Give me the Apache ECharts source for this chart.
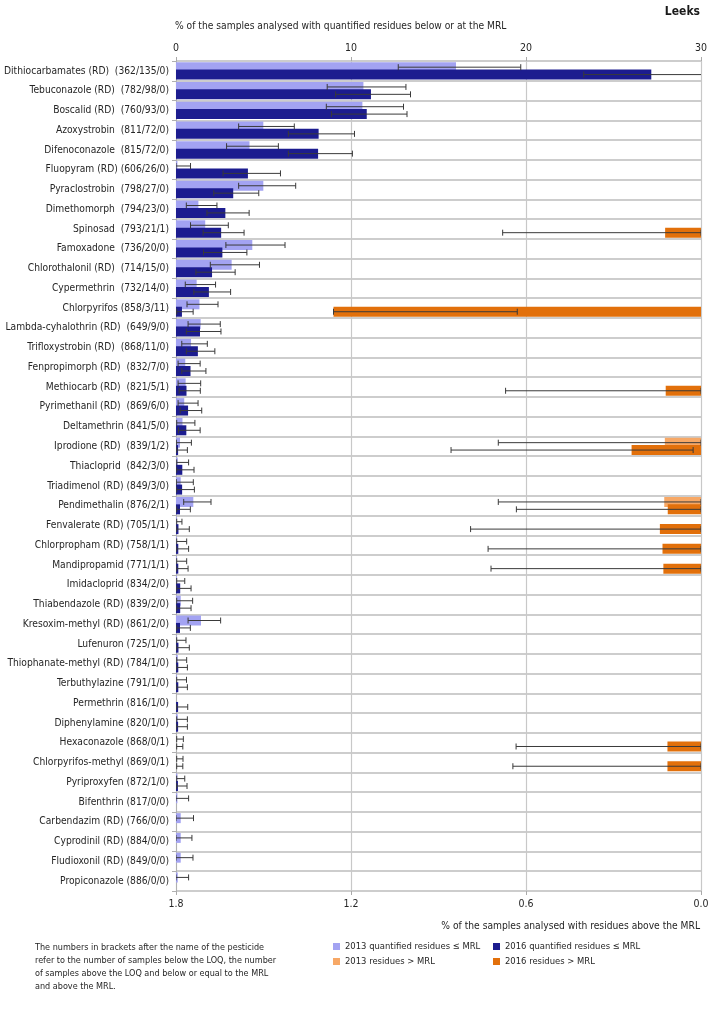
<!DOCTYPE html>
<html>
<head>
<meta charset="utf-8">
<script src="https://cdn.jsdelivr.net/npm/echarts@6/dist/echarts.min.js"></script>
<style>
html,body{margin:0;padding:0;background:#fff;}
#chart{width:709px;height:1014px;}
</style>
</head>
<body>
<div id="chart"></div>
<script>
const categories = [
  'Dithiocarbamates (RD)  (362/135/0)','Tebuconazole (RD)  (782/98/0)','Boscalid (RD)  (760/93/0)',
  'Azoxystrobin  (811/72/0)','Difenoconazole  (815/72/0)','Fluopyram (RD) (606/26/0)',
  'Pyraclostrobin  (798/27/0)','Dimethomorph  (794/23/0)','Spinosad  (793/21/1)',
  'Famoxadone  (736/20/0)','Chlorothalonil (RD)  (714/15/0)','Cypermethrin  (732/14/0)',
  'Chlorpyrifos (858/3/11)','Lambda-cyhalothrin (RD)  (649/9/0)','Trifloxystrobin (RD)  (868/11/0)',
  'Fenpropimorph (RD)  (832/7/0)','Methiocarb (RD)  (821/5/1)','Pyrimethanil (RD)  (869/6/0)',
  'Deltamethrin (841/5/0)','Iprodione (RD)  (839/1/2)','Thiacloprid  (842/3/0)',
  'Triadimenol (RD) (849/3/0)','Pendimethalin (876/2/1)','Fenvalerate (RD) (705/1/1)',
  'Chlorpropham (RD) (758/1/1)','Mandipropamid (771/1/1)','Imidacloprid (834/2/0)',
  'Thiabendazole (RD) (839/2/0)','Kresoxim-methyl (RD) (861/2/0)','Lufenuron (725/1/0)',
  'Thiophanate-methyl (RD) (784/1/0)','Terbuthylazine (791/1/0)','Permethrin (816/1/0)',
  'Diphenylamine (820/1/0)','Hexaconazole (868/0/1)','Chlorpyrifos-methyl (869/0/1)',
  'Pyriproxyfen (872/1/0)','Bifenthrin (817/0/0)','Carbendazim (RD) (766/0/0)',
  'Cyprodinil (RD) (884/0/0)','Fludioxonil (RD) (849/0/0)','Propiconazole (886/0/0)'
];

// % quantified residues <= MRL (top axis)
const q2013 = [16.0,10.71,10.65,4.99,4.20,0.08,4.99,1.28,1.67,4.36,3.18,1.18,1.34,1.41,0.86,0.53,0.55,0.47,0.37,0.23,0.10,0.27,0.99,0.05,0.05,0.05,0.06,0.27,1.43,0.03,0.10,0.05,0,0.10,0,0,0.08,0.08,0.27,0.27,0.27,0.10];
const q2016 = [27.16,11.14,10.90,8.15,8.12,4.11,3.27,2.82,2.58,2.65,2.06,1.88,0.34,1.37,1.25,0.83,0.60,0.69,0.59,0.12,0.36,0.35,0.23,0.14,0.13,0.13,0.24,0.24,0.23,0.14,0.13,0.13,0.12,0.12,0,0,0.11,0,0,0,0,0];

const qErr2013 = [[12.7,19.7],[8.64,13.14],[8.59,13.0],[3.58,6.76],[2.89,5.85],[0,0.83],[3.58,6.84],[0.59,2.34],[0.83,2.99],[2.85,6.23],[1.96,4.77],[0.53,2.26],[0.63,2.40],[0.69,2.53],[0.33,1.79],[0.12,1.38],[0.12,1.41],[0.12,1.26],[0.04,1.08],[0.02,0.88],[0.04,0.72],[0.02,0.99],[0.44,2.0],[0.04,0.34],[0.04,0.61],[0.04,0.61],[0.04,0.5],[0.04,0.95],[0.69,2.55],[0.04,0.57],[0.04,0.61],[0.04,0.6],null,[0.04,0.65],[0.04,0.42],[0.04,0.40],[0.04,0.5],[0,0.72],[0,1.0],[0,0.91],[0,0.97],[0,0.72]];
const qErr2016 = [[23.3,31],[9.12,13.40],[8.88,13.2],[6.42,10.2],[6.42,10.08],[2.69,5.97],[2.16,4.73],[1.77,4.18],[1.55,3.89],[1.57,4.05],[1.14,3.38],[1.02,3.12],[0.04,0.98],[0.59,2.57],[0.59,2.22],[0.33,1.71],[0.18,1.39],[0.24,1.47],[0.14,1.38],[0.04,0.65],[0.04,1.03],[0.04,1.05],[0.04,0.82],[0.04,0.76],[0.04,0.72],[0.04,0.69],[0.04,0.86],[0.04,0.86],[0.04,0.82],[0.04,0.76],[0.04,0.65],[0.04,0.65],[0.04,0.67],[0.04,0.65],[0.04,0.39],[0.04,0.39],[0.04,0.63],null,null,null,null,null];

// % residues > MRL (bottom, reversed axis)
const m2013 = [null,null,null,null,null,null,null,null,null,null,null,null,null,null,null,null,null,null,null,0.124,null,null,0.126,null,null,null,null,null,null,null,null,null,null,null,null,null,null,null,null,null,null,null];
const m2016 = [null,null,null,null,null,null,null,null,0.123,null,null,null,1.26,null,null,null,0.121,null,null,0.238,null,null,0.114,0.141,0.132,0.129,null,null,null,null,null,null,null,null,0.115,0.115,null,null,null,null,null,null];
const mErr2013 = [null,null,null,null,null,null,null,null,null,null,null,null,null,null,null,null,null,null,null,[0,0.695],null,null,[0,0.695],null,null,null,null,null,null,null,null,null,null,null,null,null,null,null,null,null,null,null];
const mErr2016 = [null,null,null,null,null,null,null,null,[0,0.68],null,null,null,[0.63,1.26],null,null,null,[0,0.67],null,null,[0.027,0.857],null,null,[0,0.633],[0,0.79],[0,0.73],[0,0.72],null,null,null,null,null,null,null,null,[0,0.634],[0,0.645],null,null,null,null,null,null];

const topTicks = [0,10,20,30];
const bottomTicks = [1.8,1.2,0.6,0.0];

const FONT = "'DejaVu Sans Condensed', 'DejaVu Sans', sans-serif";
const TXT = '#262626';
const BAR_OFF = 3.7;

function errData(arr){
  const out = [];
  arr.forEach((e,i)=>{ if(e) out.push([e[0], e[1], i]); });
  return out;
}
function errRender(offset){
  return function(params, api){
    const lo = api.value(0), hi = api.value(1), idx = api.value(2);
    const p1 = api.coord([lo, idx]);
    const p2 = api.coord([hi, idx]);
    const y = p1[1] + offset;
    const h = 3;
    const st = {stroke:'#3a3a3a', lineWidth:1};
    return {type:'group', children:[
      {type:'line', shape:{x1:p1[0], y1:y, x2:p2[0], y2:y}, style:st},
      {type:'line', shape:{x1:p1[0], y1:y-h, x2:p1[0], y2:y+h}, style:st},
      {type:'line', shape:{x1:p2[0], y1:y-h, x2:p2[0], y2:y+h}, style:st}
    ]};
  };
}

const chart = echarts.init(document.getElementById('chart'), null, {renderer:'canvas'});
const N1 = '2013 quantified residues ≤ MRL', N2 = '2016 quantified residues ≤ MRL';
const N3 = '2013 residues > MRL', N4 = '2016 residues > MRL';
const legText = {fontFamily:FONT, fontSize:9.4, color:TXT};
function leg(name, left, top){
  return {left:left, top:top, orient:'horizontal', itemWidth:7, itemHeight:7, itemGap:5, icon:'rect',
          data:[name], selectedMode:false, textStyle:legText, padding:0};
}

const option = {
  animation:false,
  textStyle:{fontFamily:FONT},
  title:{text:'Leeks', right:4, top:1, textStyle:{fontFamily:FONT, fontSize:12, fontWeight:'bold', color:'#1a1a1a'}},
  grid:{left:176, right:8, top:61, bottom:123, containLabel:false, outerBoundsMode:'none'},
  xAxis:[
    {type:'value', position:'top', min:0, max:30, interval:10,
     axisLine:{show:false}, axisTick:{show:true, length:4, lineStyle:{color:'#aaa'}},
     axisLabel:{fontFamily:FONT, fontSize:10.5, color:TXT, margin:7, formatter:v=>topTicks.includes(v)?String(v):''},
     splitLine:{show:true, lineStyle:{color:'#c8c8c8', width:1.2}}},
    {type:'value', position:'bottom', min:0, max:1.8, interval:0.6, inverse:true,
     axisLine:{show:false}, axisTick:{show:true, length:4, lineStyle:{color:'#aaa'}},
     axisLabel:{fontFamily:FONT, fontSize:10.5, color:TXT, margin:8, formatter:v=>{const r=Math.round(v*10)/10; return bottomTicks.includes(r)? r.toFixed(1):'';}},
     splitLine:{show:false}}
  ],
  yAxis:[
    {type:'category', data:categories, inverse:true,
     axisLine:{show:true, lineStyle:{color:'#b0b0b0', width:1}},
     axisTick:{show:true, length:4, lineStyle:{color:'#b0b0b0'}},
     axisLabel:{fontFamily:FONT, fontSize:10.2, color:TXT, margin:7},
     splitLine:{show:true, lineStyle:{color:'#bdbdbd', width:1.6}}},
    {type:'category', data:categories, inverse:true, show:false}
  ],
  legend:[leg(N1,333,942), leg(N2,493,942), leg(N3,333,957), leg(N4,493,957)],
  graphic:[
    {type:'text', left:175, top:21, style:{text:'% of the samples analysed with quantified residues below or at the MRL', font:"10.2px "+FONT, fill:TXT}},
    {type:'text', right:9, top:921, style:{text:'% of the samples analysed with residues above the MRL', font:"10.2px "+FONT, fill:TXT}},
    {type:'text', left:35, top:941, style:{text:'The numbers in brackets after the name of the pesticide\nrefer to the number of samples below the LOQ, the number\nof samples above the LOQ and below or equal to the MRL\nand above the MRL.', font:"9px "+FONT, fill:TXT, lineHeight:13}}
  ],
  series:[
    {name:N1, type:'bar', xAxisIndex:0, yAxisIndex:0, data:q2013, barWidth:10, barGap:'-26%', itemStyle:{color:'#a3a3f2'}, z:2},
    {name:N2, type:'bar', xAxisIndex:0, yAxisIndex:0, data:q2016, barWidth:10, barGap:'-26%', itemStyle:{color:'#1c1c8f'}, z:2},
    {name:N3, type:'bar', xAxisIndex:1, yAxisIndex:1, data:m2013, barWidth:10, barGap:'-26%', itemStyle:{color:'#f7a866'}, z:2},
    {name:N4, type:'bar', xAxisIndex:1, yAxisIndex:1, data:m2016, barWidth:10, barGap:'-26%', itemStyle:{color:'#e2700b'}, z:2},
    {name:'err2013', type:'custom', xAxisIndex:0, yAxisIndex:0, clip:true, z:5, encode:{x:[0,1], y:2}, data:errData(qErr2013), renderItem:errRender(-BAR_OFF)},
    {name:'err2016', type:'custom', xAxisIndex:0, yAxisIndex:0, clip:true, z:5, encode:{x:[0,1], y:2}, data:errData(qErr2016), renderItem:errRender(BAR_OFF)},
    {name:'errM2013', type:'custom', xAxisIndex:1, yAxisIndex:1, clip:true, z:5, encode:{x:[0,1], y:2}, data:errData(mErr2013), renderItem:errRender(-BAR_OFF)},
    {name:'errM2016', type:'custom', xAxisIndex:1, yAxisIndex:1, clip:true, z:5, encode:{x:[0,1], y:2}, data:errData(mErr2016), renderItem:errRender(BAR_OFF)}
  ]
};
chart.setOption(option);
</script>
</body>
</html>
